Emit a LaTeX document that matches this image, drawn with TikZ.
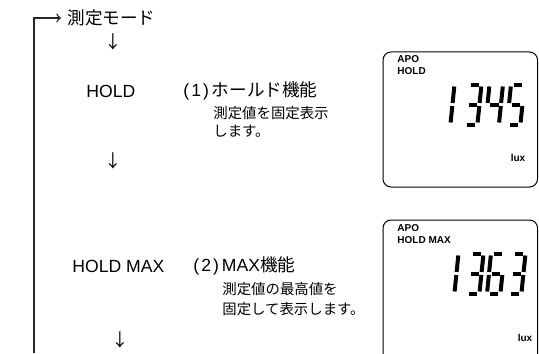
\documentclass[tikz,border=0pt]{standalone}
\usepackage{fontspec}
\setmainfont{Liberation Sans}
\newfontfamily\jp{Noto Sans CJK JP}
\usepackage{tikz}

% one slanted seven-segment digit: x, y (top left), list of lit segments
\newcommand{\lcddigit}[3]{%
  \def\ox{#1}\def\oy{#2}%
  \coordinate (a1) at (\ox+2.5,\oy);        \coordinate (a2) at (\ox+11,\oy);
  \coordinate (b1) at (\ox+13.3,\oy+2);     \coordinate (b2) at (\ox+11.6,\oy+18.5);
  \coordinate (c1) at (\ox+11.3,\oy+21.5);  \coordinate (c2) at (\ox+9.6,\oy+38);
  \coordinate (d1) at (\ox-1.5,\oy+40);     \coordinate (d2) at (\ox+7,\oy+40);
  \coordinate (e1) at (\ox-2.15,\oy+21.5);  \coordinate (e2) at (\ox-3.8,\oy+38);
  \coordinate (f1) at (\ox-0.2,\oy+2);      \coordinate (f2) at (\ox-1.85,\oy+18.5);
  \coordinate (g1) at (\ox+0.5,\oy+20);     \coordinate (g2) at (\ox+9,\oy+20);
  \foreach \s in {#3} {\draw [segment] (\s1) -- (\s2);}}

\begin{document}
\begin{tikzpicture}[x=0.5pt, y=-0.5pt]
      \clip (0,0) rectangle (539,353);
      \tikzstyle {flowtext} = [inner sep=0pt, anchor=west, font=\fontsize{8.8}{10}\selectfont];
      \tikzstyle {desctext} = [inner sep=0pt, anchor=west, align=left, font=\jp\fontsize{7.2}{9}\selectfont];
      \tikzstyle {lcdtext} = [inner sep=0pt, anchor=west, font=\bfseries\fontsize{5}{6}\selectfont];
      \tikzstyle {lcdpanel} = [draw, line width=0.5pt, rounded corners=4pt];
      \tikzstyle {segment} = [line width=2pt];
      % flow on the left
      \node (mode) [flowtext] at (67,18) {\jp 測定モード};
      \node (down1) [flowtext, anchor=center] at (113,42) {\jp ↓};
      \node (hold) [flowtext] at (86,91) {HOLD};
      \node (holdfn) [flowtext] at (183,91) {(\kern1pt1\kern1pt)\kern1.5pt\jp ホールド機能};
      \node (holddesc) [desctext] at (213,122) {測定値を固定表示\\します。};
      \node (down2) [flowtext, anchor=center] at (113,161) {\jp ↓};
      \node (holdmax) [flowtext] at (72,266) {HOLD MAX};
      \node (maxfn) [flowtext] at (193,266) {(\kern1pt2\kern1pt)\kern1.5pt MAX\jp 機能};
      \node (maxdesc) [desctext, font=\jp\fontsize{7.2}{10}\selectfont] at (222,299) {測定値の最高値を\\固定して表示します。};
      \node (down3) [flowtext, anchor=center] at (120,340) {\jp ↓};
      \coordinate (loopstart) at (34,353);
      \draw [->, line width=0.7pt, black!85] (loopstart) |- ([xshift=-3pt]mode.west);
      % display for HOLD
      \draw [lcdpanel] (383,52) rectangle (537.5,187);
      \node (apo1) [lcdtext] at (397,59) {APO};
      \node (hold1) [lcdtext] at (397,71) {HOLD};
      \lcddigit{441}{84.5}{b,c}
      \lcddigit{468}{84.5}{a,b,c,d,g}
      \lcddigit{489.5}{84.5}{b,c,f,g}
      \lcddigit{511}{84.5}{a,c,d,f,g}
      \node (lux1) [lcdtext, anchor=center] at (518,158) {lux};
      % display for HOLD MAX
      \draw [lcdpanel] (383,220) rectangle (537.5,365);
      \node (apo2) [lcdtext] at (397,228) {APO};
      \node (hold2) [lcdtext] at (397,240) {HOLD MAX};
      \lcddigit{445}{253.5}{b,c}
      \lcddigit{470}{253.5}{a,b,c,d,g}
      \lcddigit{491}{253.5}{a,c,d,e,f,g}
      \lcddigit{512}{253.5}{a,b,c,d,g}
      \node (lux2) [lcdtext, anchor=center] at (525,338) {lux};
    \end{tikzpicture}
\end{document}
